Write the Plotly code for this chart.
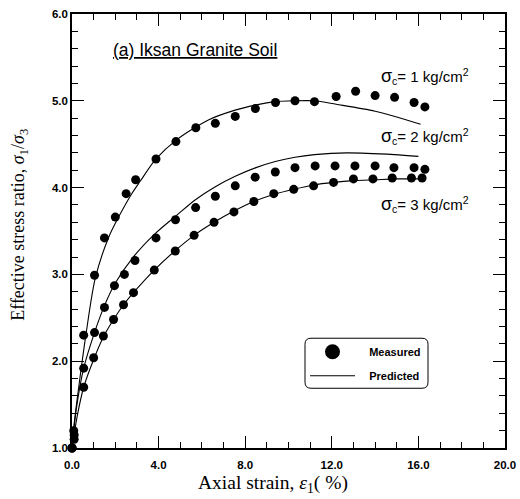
import plotly.graph_objects as go

# ---------------- data ----------------
meas1_x = [0, 0.08, 0.54, 1.04, 1.50, 2.0, 2.5, 2.94, 3.88, 4.80, 5.72, 6.62, 7.54, 8.47, 9.40, 10.3, 11.2, 12.2, 13.1, 14.0, 14.9, 15.8, 16.3]
meas1_y = [1.0, 1.2, 2.30, 2.99, 3.42, 3.66, 3.93, 4.09, 4.33, 4.53, 4.69, 4.74, 4.82, 4.91, 4.98, 5.00, 4.99, 5.05, 5.11, 5.06, 5.04, 4.98, 4.93]

meas2_x = [0, 0.1, 0.54, 1.04, 1.50, 1.96, 2.42, 2.91, 3.88, 4.78, 5.71, 6.62, 7.54, 8.46, 9.39, 10.3, 11.23, 12.15, 13.07, 14.0, 14.87, 15.8, 16.3]
meas2_y = [1.0, 1.15, 1.92, 2.33, 2.62, 2.87, 3.00, 3.16, 3.42, 3.63, 3.77, 3.90, 4.02, 4.12, 4.18, 4.23, 4.25, 4.25, 4.25, 4.25, 4.23, 4.23, 4.21]

meas3_x = [0, 0.1, 0.54, 1.0, 1.45, 1.92, 2.38, 2.84, 3.80, 4.77, 5.64, 6.56, 7.48, 8.40, 9.32, 10.24, 11.16, 12.08, 13.0, 13.9, 14.79, 15.68, 16.17]
meas3_y = [1.0, 1.1, 1.70, 2.04, 2.29, 2.48, 2.65, 2.79, 3.05, 3.27, 3.45, 3.60, 3.72, 3.84, 3.93, 3.98, 4.02, 4.06, 4.10, 4.10, 4.11, 4.11, 4.11]

pred1_x = [0, 0.1, 0.31, 0.64, 1.07, 1.68, 2.15, 2.76, 3.14, 3.88, 4.83, 6.3, 7.5, 8.47, 9.4, 10.3, 11.2, 12.2, 14.0, 16.1]
pred1_y = [1.0, 1.28, 1.70, 2.30, 2.95, 3.42, 3.66, 3.93, 4.07, 4.33, 4.55, 4.78, 4.89, 4.95, 4.99, 5.0, 5.0, 4.96, 4.88, 4.73]

pred2_x = [0, 0.2, 0.54, 1.04, 1.5, 2.0, 2.83, 3.84, 4.83, 5.7, 6.62, 7.54, 8.5, 9.39, 10.3, 11.2, 12.7, 14.9, 16.0]
pred2_y = [1.0, 1.45, 1.92, 2.33, 2.64, 2.90, 3.20, 3.47, 3.68, 3.86, 4.01, 4.13, 4.23, 4.30, 4.35, 4.38, 4.40, 4.38, 4.36]

pred3_x = [0, 0.25, 0.54, 1.0, 1.45, 1.92, 2.38, 2.84, 3.80, 4.75, 5.64, 6.56, 7.48, 8.40, 9.32, 10.24, 11.16, 12.08, 13.0, 14.0, 15.0, 16.0]
pred3_y = [1.0, 1.38, 1.70, 2.02, 2.28, 2.48, 2.65, 2.79, 3.05, 3.27, 3.45, 3.60, 3.73, 3.84, 3.92, 3.98, 4.03, 4.06, 4.08, 4.09, 4.10, 4.10]

x_ticks = [0, 4, 8, 12, 16, 20]
x_tick_labels = ["0.0", "4.0", "8.0", "12.0", "16.0", "20.0"]
y_ticks = [1, 2, 3, 4, 5, 6]
y_tick_labels = ["1.0", "2.0", "3.0", "4.0", "5.0", "6.0"]

curve_labels = ["1", "2", "3"]
label_y = [5.285, 4.585, 3.80]

# ---------------- figure ----------------
fig = go.Figure()

for px_, py_ in [(pred1_x, pred1_y), (pred2_x, pred2_y), (pred3_x, pred3_y)]:
    fig.add_trace(go.Scatter(x=px_, y=py_, mode="lines", line=dict(color="black", width=1.1, shape="spline", smoothing=0.8),
                             showlegend=False, cliponaxis=False, hoverinfo="skip"))

for mx, my in [(meas1_x, meas1_y), (meas2_x, meas2_y), (meas3_x, meas3_y)]:
    fig.add_trace(go.Scatter(x=mx, y=my, mode="markers", marker=dict(color="black", size=9),
                             showlegend=False, cliponaxis=False))

NB = "\u00a0\u00a0\u00a0"
# legend entries
fig.add_trace(go.Scatter(x=[None], y=[None], mode="markers", name=NB + "Measured",
                         marker=dict(color="black", size=15), legendgroup="a"))
fig.add_trace(go.Scatter(x=[None], y=[None], mode="lines", name=NB + "Predicted",
                         line=dict(color="black", width=1.1), legendgroup="b"))

font_sans = "Liberation Sans, Arial, sans-serif"
font_serif = "Liberation Serif, Times New Roman, serif"

fig.update_xaxes(range=[0, 20], tickvals=x_ticks, ticktext=x_tick_labels,
                 ticks="inside", ticklen=12, tickwidth=1, tickcolor="black",
                 minor=dict(dtick=1, ticks="inside", ticklen=6, tickcolor="black", tickwidth=1),
                 showline=True, linecolor="black", linewidth=1.5, mirror="allticks",
                 showgrid=False, zeroline=False, automargin=False, ticklabelstandoff=5,
                 tickfont=dict(family=font_sans, size=11.5, color="black", weight="bold"))
fig.update_yaxes(range=[1, 6], tickvals=y_ticks, ticktext=y_tick_labels,
                 ticks="inside", ticklen=12, tickwidth=1, tickcolor="black",
                 minor=dict(dtick=0.2, ticks="inside", ticklen=6, tickcolor="black", tickwidth=1),
                 showline=True, linecolor="black", linewidth=1.5, mirror="allticks",
                 showgrid=False, zeroline=False, automargin=False,
                 tickfont=dict(family=font_sans, size=11.5, color="black", weight="bold"))

ann = []
ann.append(dict(x=1.8, y=5.58, xref="x", yref="y", xanchor="left", yanchor="middle", showarrow=False,
                text="<u>(a) Iksan Granite Soil</u>", font=dict(family=font_sans, size=17.5, color="black")))
for lab, ly in zip(curve_labels, label_y):
    ann.append(dict(x=14.2, y=ly, xref="x", yref="y", xanchor="left", yanchor="middle", showarrow=False,
                    text="<span style='font-size:18px'>σ</span><sub>c</sub>= " + lab + " kg/cm<sup>2</sup>",
                    font=dict(family=font_sans, size=15, color="black")))
ann.append(dict(x=9.29, y=-0.083, xref="x", yref="paper", xanchor="center", yanchor="middle", showarrow=False,
                text="Axial strain, <i>ε</i><sub>1</sub>( %)", font=dict(family=font_serif, size=19.5, color="black")))
ann.append(dict(x=-0.121, y=3.567, xref="paper", yref="y", xanchor="center", yanchor="middle", showarrow=False,
                textangle=-90, text="Effective stress ratio, <i>σ</i><sub>1</sub>/<i>σ</i><sub>3</sub>",
                font=dict(family=font_serif, size=18, color="black")))

# rounded legend frame (paper coords)
PW, PH = 433, 433.7
L0, T0 = 72, 14
x0p, x1p = (305 - L0) / PW, (428 - L0) / PW
y0p, y1p = (447.7 - 388) / PH, (447.7 - 338) / PH
r = 6
rx, ry = r / PW, r / PH
path = (f"M {x0p+rx},{y1p} L {x1p-rx},{y1p} Q {x1p},{y1p} {x1p},{y1p-ry} "
        f"L {x1p},{y0p+ry} Q {x1p},{y0p} {x1p-rx},{y0p} L {x0p+rx},{y0p} "
        f"Q {x0p},{y0p} {x0p},{y0p+ry} L {x0p},{y1p-ry} Q {x0p},{y1p} {x0p+rx},{y1p} Z")

fig.update_layout(
    template="none",
    width=520, height=499,
    margin=dict(l=L0, r=520 - L0 - PW, t=T0, b=499 - T0 - PH, autoexpand=False),
    paper_bgcolor="white", plot_bgcolor="white",
    annotations=ann,
    shapes=[dict(type="path", path=path, xref="paper", yref="paper", line=dict(color="black", width=1))],
    showlegend=True,
    legend=dict(x=(305 - L0) / PW, y=(447.7 - 337) / PH, xanchor="left", yanchor="top",
                bgcolor="rgba(0,0,0,0)", borderwidth=0, tracegroupgap=5, itemwidth=45,
                font=dict(family=font_sans, size=11, color="black", weight="bold")),
)

fig.write_html("out.html", config={"displayModeBar": False},
               post_script="document.body.style.margin='0';document.body.style.padding='0';")
